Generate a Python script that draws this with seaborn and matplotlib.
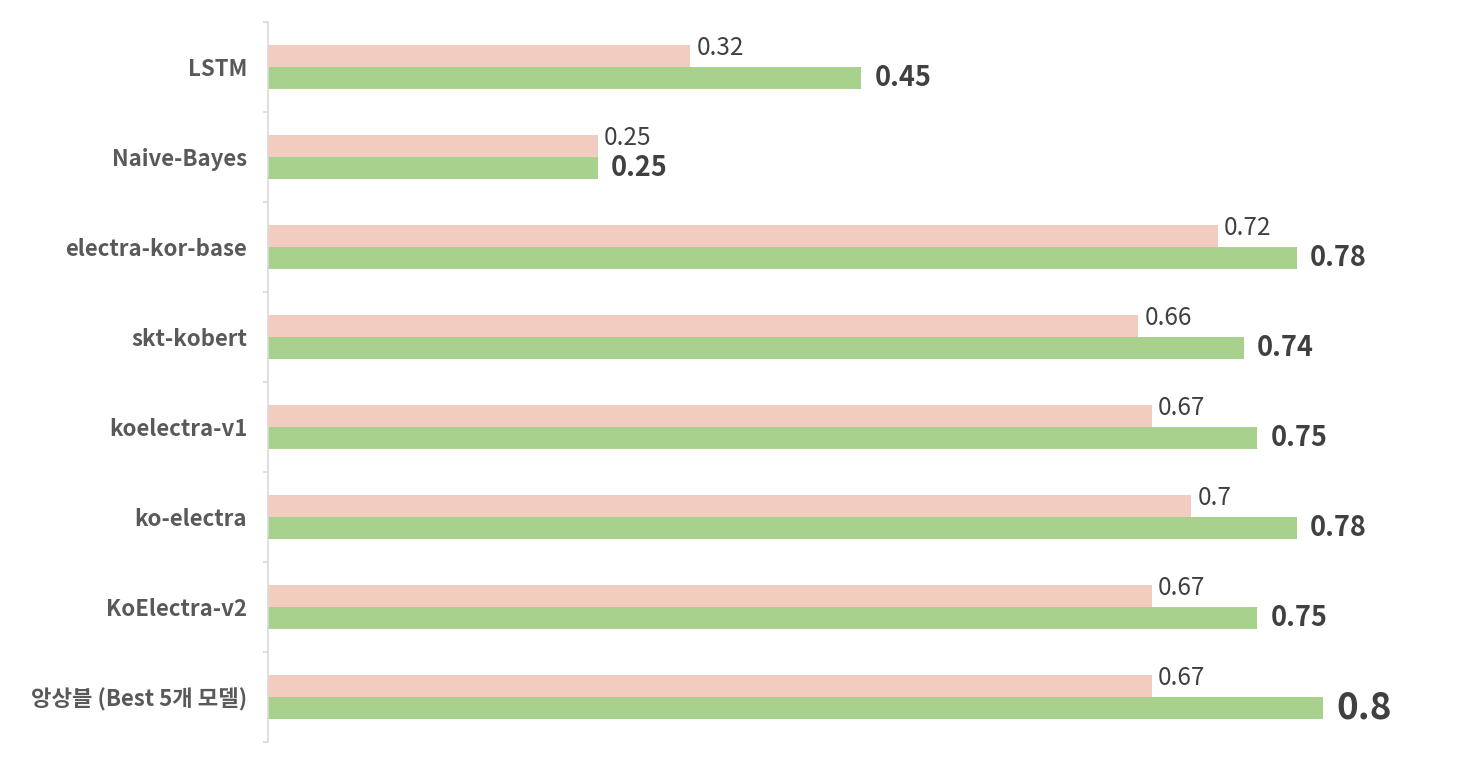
import pandas as pd
import matplotlib
matplotlib.use("Agg")
import matplotlib.pyplot as plt
import seaborn as sns

# values
models = ["LSTM", "Naive-Bayes", "electra-kor-base", "skt-kobert",
          "koelectra-v1", "ko-electra", "KoElectra-v2", "앙상블 (Best 5개 모델)"]
score_a = [0.32, 0.25, 0.72, 0.66, 0.67, 0.7, 0.67, 0.67]
score_b = [0.45, 0.25, 0.78, 0.74, 0.75, 0.78, 0.75, 0.8]
series = ["score_a", "score_b"]
colors = ["#F2CDBF", "#A9D18E"]

df = pd.DataFrame({
    "model": models * 2,
    "score": score_a + score_b,
    "series": [series[0]] * len(models) + [series[1]] * len(models),
})

sns.set_style("white")
plt.rcParams["font.family"] = ["Noto Sans CJK KR", "DejaVu Sans"]

W, H = 1478, 766
fig = plt.figure(figsize=(W / 100, H / 100), dpi=100)
ax = fig.add_axes([268 / W, (H - 742) / H, (W - 268) / W, 720 / H])

sns.barplot(data=df, x="score", y="model", hue="series", order=models,
            hue_order=series, palette=colors, orient="h", width=0.49,
            saturation=1, legend=False, linewidth=0, ax=ax)

ax.set_xlim(0, 1210 / 1318.75)
ax.set_ylim(len(models) - 0.5, -0.5)
ax.set_xlabel("")
ax.set_ylabel("")
ax.set_xticks([])

for s in ["top", "right", "bottom"]:
    ax.spines[s].set_visible(False)
ax.spines["left"].set_color("#D9D9D9")
ax.spines["left"].set_linewidth(1.2)

# labels centred, tick marks between categories
ax.tick_params(axis="y", which="major", left=False, length=0, pad=15,
               labelsize=16, labelcolor="#595959")
for t in ax.get_yticklabels():
    t.set_fontweight("bold")
ax.set_yticks([i - 0.5 for i in range(len(models) + 1)], minor=True)
ax.tick_params(axis="y", which="minor", left=True, length=3.6, width=1.2,
               color="#D9D9D9")

# value labels
for bar, v in zip(ax.containers[0], score_a):
    ax.annotate(f"{v:g}", (bar.get_width(), bar.get_y() + bar.get_height() / 2),
                xytext=(4.5, 5.5), textcoords="offset points",
                ha="left", va="center", fontsize=17.5, color="#404040")
for bar, v in zip(ax.containers[1], score_b):
    big = v == max(score_b)
    ax.annotate(f"{v:g}", (bar.get_width(), bar.get_y() + bar.get_height() / 2),
                xytext=(9.5, 0), textcoords="offset points",
                ha="left", va="center", fontsize=26.5 if big else 19.5,
                fontweight="bold", color="#404040")

fig.savefig("out.png", dpi=100)
